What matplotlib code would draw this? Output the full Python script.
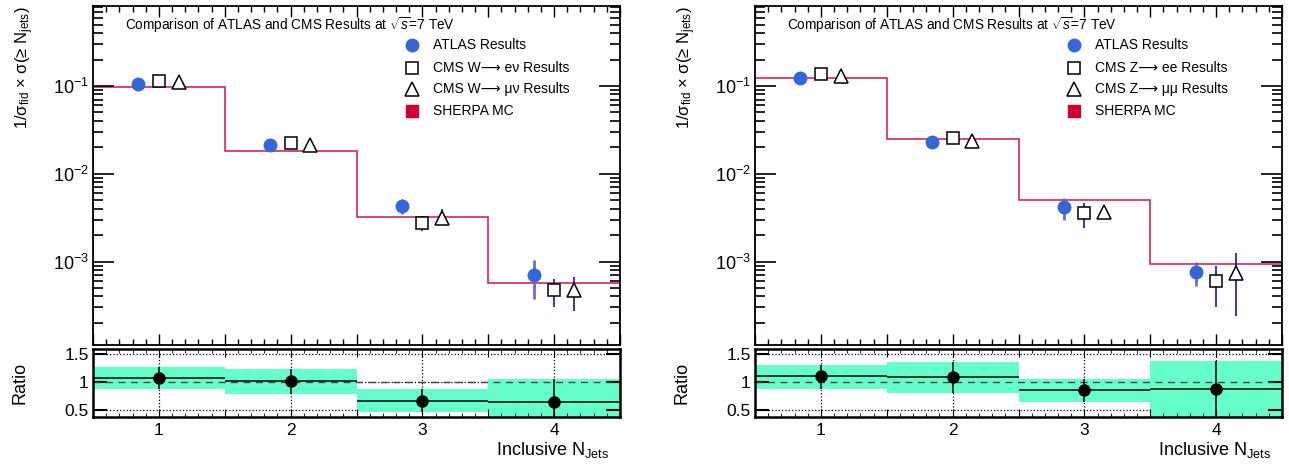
import matplotlib
matplotlib.use('agg')

import matplotlib.pyplot as plt
import matplotlib.ticker as mticker
import numpy as np

plt.rcParams['font.family'] = ['Liberation Sans', 'DejaVu Sans']
plt.rcParams['mathtext.fontset'] = 'custom'
plt.rcParams['mathtext.rm'] = 'Liberation Sans'
plt.rcParams['mathtext.it'] = 'Liberation Sans:italic'
plt.rcParams['mathtext.bf'] = 'Liberation Sans:bold'
plt.rcParams['mathtext.sf'] = 'Liberation Sans'

njets = [1, 2, 3, 4]
bin_edges = [0.5, 1.5, 2.5, 3.5, 4.5]

# W + jets panel
w_atlas = [0.104, 0.0213, 0.00434, 0.00071]
w_atlas_lo = [0.100, 0.0205, 0.00346, 0.00037]
w_atlas_hi = [0.108, 0.0221, 0.0051, 0.00104]
w_cms1 = [0.113, 0.0222, 0.00273, 0.000468]
w_cms1_lo = [0.110, 0.0212, 0.0022, 0.000305]
w_cms1_hi = [0.116, 0.0232, 0.0033, 0.00063]
w_cms2 = [0.111, 0.0211, 0.00316, 0.00047]
w_cms2_lo = [0.108, 0.0195, 0.0026, 0.00027]
w_cms2_hi = [0.114, 0.0226, 0.0040, 0.00067]
w_sherpa = [0.098, 0.018, 0.0032, 0.000577]
w_ratio = [1.076, 1.012, 0.67, 0.653]
w_band_lo = [0.876, 0.79, 0.476, 0.376]
w_band_hi = [1.26, 1.23, 0.876, 1.053]
w_labels = ['ATLAS Results', 'CMS W\u27f6 e\u03bd Results',
            'CMS W\u27f6 \u03bc\u03bd Results', 'SHERPA MC']

# Z + jets panel
z_atlas = [0.122, 0.0230, 0.00423, 0.000763]
z_atlas_lo = [0.118, 0.0222, 0.0030, 0.00052]
z_atlas_hi = [0.126, 0.0238, 0.0053, 0.0010]
z_cms1 = [0.137, 0.0256, 0.00356, 0.000603]
z_cms1_lo = [0.133, 0.0240, 0.0024, 0.00030]
z_cms1_hi = [0.141, 0.0272, 0.0046, 0.00090]
z_cms2 = [0.130, 0.0237, 0.0037, 0.00074]
z_cms2_lo = [0.127, 0.0215, 0.0034, 0.000237]
z_cms2_hi = [0.133, 0.0259, 0.0040, 0.00125]
z_sherpa = [0.122, 0.0249, 0.0050, 0.00094]
z_ratio = [1.10, 1.088, 0.853, 0.876]
z_band_lo = [0.876, 0.81, 0.653, 0.30]
z_band_hi = [1.30, 1.353, 1.053, 1.37]
z_labels = ['ATLAS Results', 'CMS Z\u27f6 ee Results',
            'CMS Z\u27f6 \u03bc\u03bc Results', 'SHERPA MC']

W, H = 1289, 468
ATLAS_BLUE = '#3366d6'
ATLAS_ERR = '#6b6bd0'
CMS_ERR = '#1414b4'
SHERPA_LINE = '#dc2458'
SHERPA_LEG = '#cc0033'
BAND = '#66ffcc'


def px_axes(fig, x0, y0, x1, y1):
    return fig.add_axes([x0 / W, 1 - y1 / H, (x1 - x0) / W, (y1 - y0) / H])


def asym(vals, lo, hi):
    vals = np.array(vals)
    return [vals - np.array(lo), np.array(hi) - vals]


def draw_panel(fig, x0, x1, atlas, atlas_lo, atlas_hi, cms1, cms1_lo, cms1_hi,
               cms2, cms2_lo, cms2_hi, sherpa, ratio, band_lo, band_hi, labels):
    x = np.array(njets, dtype=float)
    ax = px_axes(fig, x0, 6, x1, 345)
    rax = px_axes(fig, x0, 349, x1, 417)

    # Upper panel
    ax.stairs(sherpa, bin_edges, color=SHERPA_LINE, lw=1.2, zorder=1)
    ax.errorbar(x - 0.155, atlas, yerr=asym(atlas, atlas_lo, atlas_hi), fmt='o',
                color=ATLAS_BLUE, ms=9, ecolor=ATLAS_ERR, elinewidth=2, capsize=0, zorder=3)
    ax.errorbar(x, cms1, yerr=asym(cms1, cms1_lo, cms1_hi), fmt='s', mfc='white',
                mec='black', mew=1.1, ms=9, ecolor=CMS_ERR, elinewidth=1.2, capsize=0, zorder=3)
    ax.errorbar(x + 0.15, cms2, yerr=asym(cms2, cms2_lo, cms2_hi), fmt='^', mfc='white',
                mec='black', mew=1.1, ms=9.5, ecolor=CMS_ERR, elinewidth=1.2, capsize=0, zorder=3)

    ax.set_yscale('log')
    ax.set_ylim(1.12e-4, 0.815)
    ax.set_xlim(0.5, 4.5)
    ax.xaxis.set_major_locator(mticker.MultipleLocator(0.5))
    ax.xaxis.set_minor_locator(mticker.MultipleLocator(0.1))
    ax.yaxis.set_major_locator(mticker.LogLocator(base=10, numticks=10))
    ax.yaxis.set_minor_locator(mticker.LogLocator(base=10, subs=np.arange(2, 10), numticks=10))
    ax.yaxis.set_minor_formatter(mticker.NullFormatter())
    ax.tick_params(axis='x', which='both', direction='in', top=True, bottom=True, labelbottom=False)
    ax.tick_params(axis='x', which='major', length=8, width=1)
    ax.tick_params(axis='x', which='minor', length=4, width=1)
    ax.tick_params(axis='y', which='both', direction='in', left=True, right=True, width=1.2)
    ax.tick_params(axis='y', which='major', length=15, labelsize=13, pad=3)
    ax.tick_params(axis='y', which='minor', length=7)
    for s in ax.spines.values():
        s.set_linewidth(1.3)

    ax.set_ylabel('1/\u03c3$_{\\rm fid}$ \u00d7 \u03c3(\u2265 N$_{\\rm jets}$)', fontsize=12, loc='top')
    ax.yaxis.set_label_coords(-0.108, 1.0)

    ax.text(0.061, 0.944, 'Comparison of ATLAS and CMS Results at $\\sqrt{s}$=7 TeV',
            transform=ax.transAxes, fontsize=9.8, va='center', ha='left')

    # Legend
    leg_y = [0.885, 0.818, 0.756, 0.690]
    styles = [dict(marker='o', color=ATLAS_BLUE, ms=9, ls='none'),
              dict(marker='s', mfc='white', mec='black', mew=1.1, ms=9, ls='none'),
              dict(marker='^', mfc='white', mec='black', mew=1.1, ms=9.5, ls='none'),
              dict(marker='s', color=SHERPA_LEG, ms=9, ls='none')]
    for yy, st, lab in zip(leg_y, styles, labels):
        ax.plot([0.605], [yy], transform=ax.transAxes, clip_on=False, **st)
        ax.text(0.645, yy, lab, transform=ax.transAxes, fontsize=10, va='center', ha='left')

    # Ratio panel
    ratio = np.array(ratio)
    rax.bar(x, np.array(band_hi) - np.array(band_lo), bottom=band_lo, width=1.0,
            color=BAND, lw=0, zorder=1)
    for g in [0.5, 1.0, 1.5]:
        rax.axhline(g, color='black', ls=':', lw=0.9, zorder=0)
    for g in njets:
        rax.axvline(g, color='black', ls=':', lw=0.9, zorder=0)
    rax.axhline(1.0, color='#444444', ls=(0, (5, 4)), lw=1.0, zorder=2)
    rax.errorbar(x, ratio, yerr=asym(ratio, band_lo, band_hi), xerr=0.5, fmt='o',
                 color='black', ms=8, elinewidth=1.1, capsize=0, zorder=3)
    rax.set_xlim(0.5, 4.5)
    rax.set_ylim(0.385, 1.585)
    rax.set_yticks([0.5, 1.0, 1.5])
    rax.yaxis.set_major_formatter(mticker.FuncFormatter(lambda v, p: '%g' % v))
    rax.xaxis.set_major_locator(mticker.MultipleLocator(0.5))
    rax.xaxis.set_minor_locator(mticker.MultipleLocator(0.1))
    rax.xaxis.set_major_formatter(mticker.FuncFormatter(
        lambda v, p: '%d' % v if abs(v - round(v)) < 1e-6 else ''))
    rax.tick_params(axis='x', which='both', direction='in', top=True, bottom=True)
    rax.tick_params(axis='x', which='major', length=6, labelsize=12.5, pad=4)
    rax.tick_params(axis='x', which='minor', length=3)
    rax.tick_params(axis='y', direction='in', left=True, right=True, length=10, width=1.5,
                    labelsize=12.5, pad=3)
    for s in rax.spines.values():
        s.set_linewidth(1.8)
    rax.set_ylabel('Ratio', fontsize=13)
    rax.yaxis.set_label_coords(-0.123, 0.5)

    fig.text((x1 - 11) / W, 1 - 455 / H, 'Inclusive N$_{\\rm Jets}$', fontsize=13,
             ha='right', va='baseline')


fig = plt.figure(figsize=(W / 100, H / 100), dpi=100)

draw_panel(fig, 93, 620, w_atlas, w_atlas_lo, w_atlas_hi, w_cms1, w_cms1_lo, w_cms1_hi,
           w_cms2, w_cms2_lo, w_cms2_hi, w_sherpa, w_ratio, w_band_lo, w_band_hi, w_labels)
draw_panel(fig, 755, 1282, z_atlas, z_atlas_lo, z_atlas_hi, z_cms1, z_cms1_lo, z_cms1_hi,
           z_cms2, z_cms2_lo, z_cms2_hi, z_sherpa, z_ratio, z_band_lo, z_band_hi, z_labels)

fig.savefig('out.png', dpi=100)
